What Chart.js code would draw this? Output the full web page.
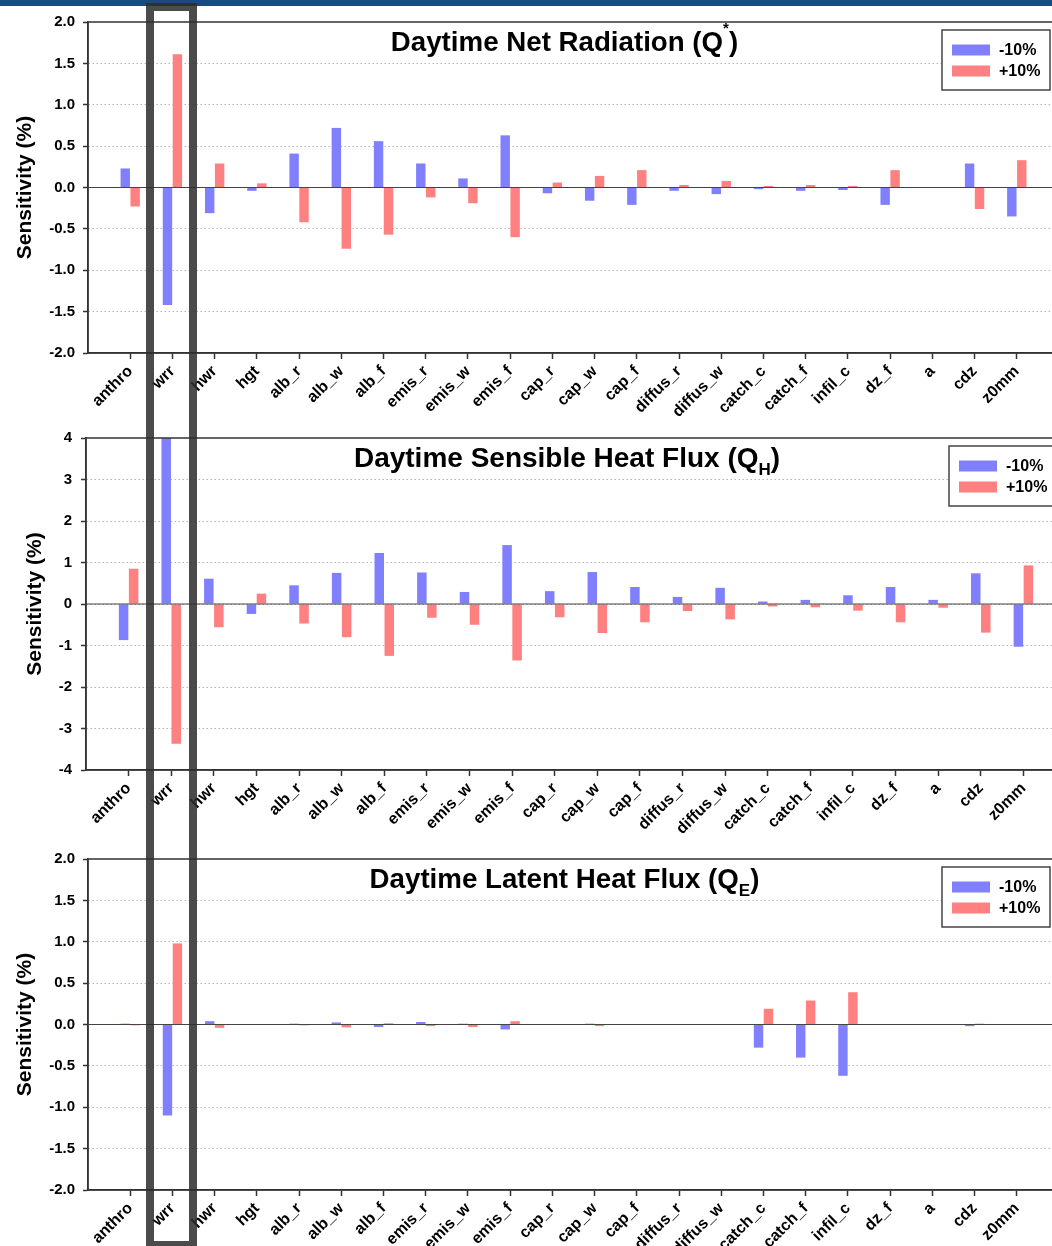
<!DOCTYPE html>
<html>
<head>
<meta charset="utf-8">
<title>Daytime sensitivity</title>
<script src="https://cdn.jsdelivr.net/npm/chart.js@4.4.1/dist/chart.umd.min.js"></script>
<style>
  html, body { margin: 0; padding: 0; background: #fff; overflow: hidden; }
  #page { position: relative; width: 1052px; height: 1246px; overflow: hidden; }
  #page canvas { position: absolute; left: 0; }
  #band { position: absolute; left: 0; top: 0; width: 1052px; height: 6px; background: #1b4a7e; }
  #highlight { position: absolute; left: 146px; top: 3px; width: 35px; height: 1230px;
               border: 8px solid rgba(45, 45, 45, 0.86); }
</style>
</head>
<body>
<div id="page">
  <canvas id="netChart" width="1059" height="420" style="top:0px"></canvas>
  <canvas id="sensChart" width="1066" height="420" style="top:420px"></canvas>
  <canvas id="latChart" width="1059" height="406" style="top:840px"></canvas>
  <div id="band"></div>
  <div id="highlight"></div>
</div>
<script>
// Parameters on the x axis
const categories = ['anthro', 'wrr', 'hwr', 'hgt', 'alb_r', 'alb_w', 'alb_f', 'emis_r', 'emis_w', 'emis_f',
  'cap_r', 'cap_w', 'cap_f', 'diffus_r', 'diffus_w', 'catch_c', 'catch_f', 'infil_c', 'dz_f', 'a', 'cdz', 'z0mm'];
const seriesLabels = ['-10%', '+10%'];

// Daytime net radiation (Q*)
const netMinus = [0.23, -1.42, -0.31, -0.04, 0.41, 0.72, 0.56, 0.29, 0.11, 0.63,
  -0.07, -0.16, -0.21, -0.04, -0.08, -0.02, -0.04, -0.03, -0.21, 0.0, 0.29, -0.35];
const netPlus = [-0.23, 1.61, 0.29, 0.05, -0.42, -0.74, -0.57, -0.12, -0.19, -0.60,
  0.06, 0.14, 0.21, 0.03, 0.08, 0.02, 0.03, 0.02, 0.21, 0.005, -0.26, 0.33];

// Daytime sensible heat flux (QH)
const sensMinus = [-0.87, 4.0, 0.61, -0.24, 0.45, 0.75, 1.23, 0.76, 0.29, 1.42,
  0.31, 0.77, 0.41, 0.17, 0.39, 0.06, 0.10, 0.21, 0.41, 0.10, 0.74, -1.03];
const sensPlus = [0.85, -3.37, -0.56, 0.25, -0.47, -0.80, -1.25, -0.33, -0.50, -1.36,
  -0.32, -0.70, -0.44, -0.17, -0.37, -0.06, -0.08, -0.16, -0.44, -0.09, -0.69, 0.93];

// Daytime latent heat flux (QE)
const latMinus = [0.01, -1.10, 0.04, 0.0, 0.01, 0.025, -0.03, 0.03, 0.01, -0.06,
  0.0, 0.01, 0.0, 0.0, 0.0, -0.28, -0.40, -0.62, 0.0, 0.0, -0.02, 0.0];
const latPlus = [-0.01, 0.98, -0.04, 0.0, -0.01, -0.035, 0.015, -0.02, -0.03, 0.04,
  -0.005, -0.02, 0.0, 0.0, -0.005, 0.19, 0.29, 0.39, 0.0, 0.0, 0.01, 0.0];

// y tick values
const netTicks = [-2.0, -1.5, -1.0, -0.5, 0.0, 0.5, 1.0, 1.5, 2.0];
const sensTicks = [-4, -3, -2, -1, 0, 1, 2, 3, 4];
const latTicks = [-2.0, -1.5, -1.0, -0.5, 0.0, 0.5, 1.0, 1.5, 2.0];

const FONT = '"Liberation Sans", Arial, Helvetica, sans-serif';
const BLUE = 'rgb(128, 128, 255)';
const RED = 'rgb(255, 128, 128)';

// frame, zero line, boxed legend and the title inside the plot
function panelPlugin(titleParts) {
  return {
    id: 'panel',
    afterDatasetsDraw(chart) {
      const { ctx, chartArea: a, scales: { y } } = chart;
      const y0 = y.getPixelForValue(0);
      ctx.save();
      ctx.strokeStyle = '#444';
      ctx.lineWidth = 1.2;
      ctx.beginPath();
      ctx.moveTo(a.left, y0);
      ctx.lineTo(a.right, y0);
      ctx.stroke();
      ctx.restore();
    },
    afterDraw(chart) {
      const { ctx, chartArea: a } = chart;
      ctx.save();
      ctx.strokeStyle = '#333';
      ctx.lineWidth = 1.5;
      ctx.strokeRect(a.left, a.top, a.right - a.left, a.bottom - a.top);

      // legend box
      const bw = 108, bh = 60;
      const bx = a.right - 9 - bw, by = a.top + 8;
      ctx.fillStyle = '#fff';
      ctx.fillRect(bx, by, bw, bh);
      ctx.strokeStyle = '#444';
      ctx.strokeRect(bx, by, bw, bh);
      chart.data.datasets.forEach((ds, i) => {
        const cy = by + 20 + i * 21;
        ctx.fillStyle = ds.backgroundColor;
        ctx.fillRect(bx + 10, cy - 5.5, 38, 11);
        ctx.fillStyle = '#000';
        ctx.font = 'bold 16px ' + FONT;
        ctx.textBaseline = 'middle';
        ctx.textAlign = 'left';
        ctx.fillText(ds.label, bx + 57, cy + 1);
      });

      // title with sub/superscript pieces
      let total = 0;
      titleParts.forEach(p => {
        ctx.font = 'bold ' + p.size + 'px ' + FONT;
        p.w = ctx.measureText(p.text).width;
        total += p.w;
      });
      let x = (a.left + a.right) / 2 - 9 - total / 2;
      const base = a.top + 29;
      ctx.fillStyle = '#000';
      ctx.textBaseline = 'alphabetic';
      titleParts.forEach(p => {
        ctx.font = 'bold ' + p.size + 'px ' + FONT;
        ctx.fillText(p.text, x, base + (p.dy || 0));
        x += p.w;
      });
      ctx.restore();
    }
  };
}

function makeChart(id, minus, plus, ticks, opt) {
  const labels = ['', ...categories, ''];
  const pad = arr => [null, ...arr, null];
  const lim = Math.max(...ticks.map(Math.abs));
  return new Chart(document.getElementById(id), {
    type: 'bar',
    data: {
      labels: labels,
      datasets: [
        { label: seriesLabels[0], data: pad(minus), backgroundColor: BLUE },
        { label: seriesLabels[1], data: pad(plus), backgroundColor: RED }
      ]
    },
    options: {
      responsive: false,
      animation: false,
      layout: { padding: { top: opt.top, left: 0, right: 0, bottom: 0 } },
      datasets: { bar: { categoryPercentage: 0.47, barPercentage: 0.95 } },
      plugins: { legend: { display: false }, tooltip: { enabled: false } },
      scales: {
        x: {
          offset: false,
          grid: {
            offset: false,
            drawOnChartArea: false,
            drawTicks: true,
            tickLength: 6,
            tickWidth: 1.5,
            tickColor: c => (c.index === 0 || c.index === labels.length - 1) ? 'rgba(0,0,0,0)' : '#333'
          },
          border: { color: '#333', width: 1.5 },
          ticks: {
            autoSkip: false, maxRotation: 45, minRotation: 45, padding: 3, color: '#000',
            font: { family: FONT, size: 16, weight: 'bold' }
          },
          afterFit: s => {
            s.height = opt.xHeight;
            // plot runs to the canvas edge, no room kept for the rotated labels
            s.paddingLeft = 0;
            s.paddingRight = 0;
          }
        },
        y: {
          min: -lim,
          max: lim,
          afterBuildTicks: s => { s.ticks = ticks.map(v => ({ value: v })); },
          grid: {
            color: c => (c.tick && Math.abs(c.tick.value) === lim) ? 'rgba(0,0,0,0)' : '#b5b5b5',
            lineWidth: 1,
            tickLength: 5,
            tickWidth: 1.5,
            tickColor: '#333'
          },
          border: { color: '#333', width: 1.5, dash: [1.5, 2.5] },
          ticks: {
            padding: opt.tickPad, color: '#000',
            font: { family: FONT, size: 15, weight: 'bold' },
            callback: v => opt.fmt(v)
          },
          title: {
            display: true, text: 'Sensitivity (%)', color: '#000',
            font: { family: FONT, size: 21, weight: 'bold' },
            padding: { top: opt.titlePad, bottom: 0 }
          },
          afterFit: s => { s.width = opt.left; }
        }
      }
    },
    plugins: [panelPlugin(opt.title)]
  });
}

const oneDecimal = v => Number(v).toFixed(1);
const integer = v => String(Math.round(v));

makeChart('netChart', netMinus, netPlus, netTicks, {
  top: 22, xHeight: 67, left: 88, tickPad: 8, titlePad: 13, fmt: oneDecimal,
  title: [{ text: 'Daytime Net Radiation (Q', size: 27.7 }, { text: '*', size: 15, dy: -18 }, { text: ')', size: 27.7 }]
});
makeChart('sensChart', sensMinus, sensPlus, sensTicks, {
  top: 15, xHeight: 70, left: 86, tickPad: 9, titlePad: 23, fmt: integer,
  title: [{ text: 'Daytime Sensible Heat Flux (Q', size: 28 }, { text: 'H', size: 17, dy: 8 }, { text: ')', size: 28 }]
});
makeChart('latChart', latMinus, latPlus, latTicks, {
  top: 19, xHeight: 56, left: 88, tickPad: 8, titlePad: 12.5, fmt: oneDecimal,
  title: [{ text: 'Daytime Latent Heat Flux (Q', size: 27.7 }, { text: 'E', size: 17, dy: 8 }, { text: ')', size: 27.7 }]
});
</script>
</body>
</html>
